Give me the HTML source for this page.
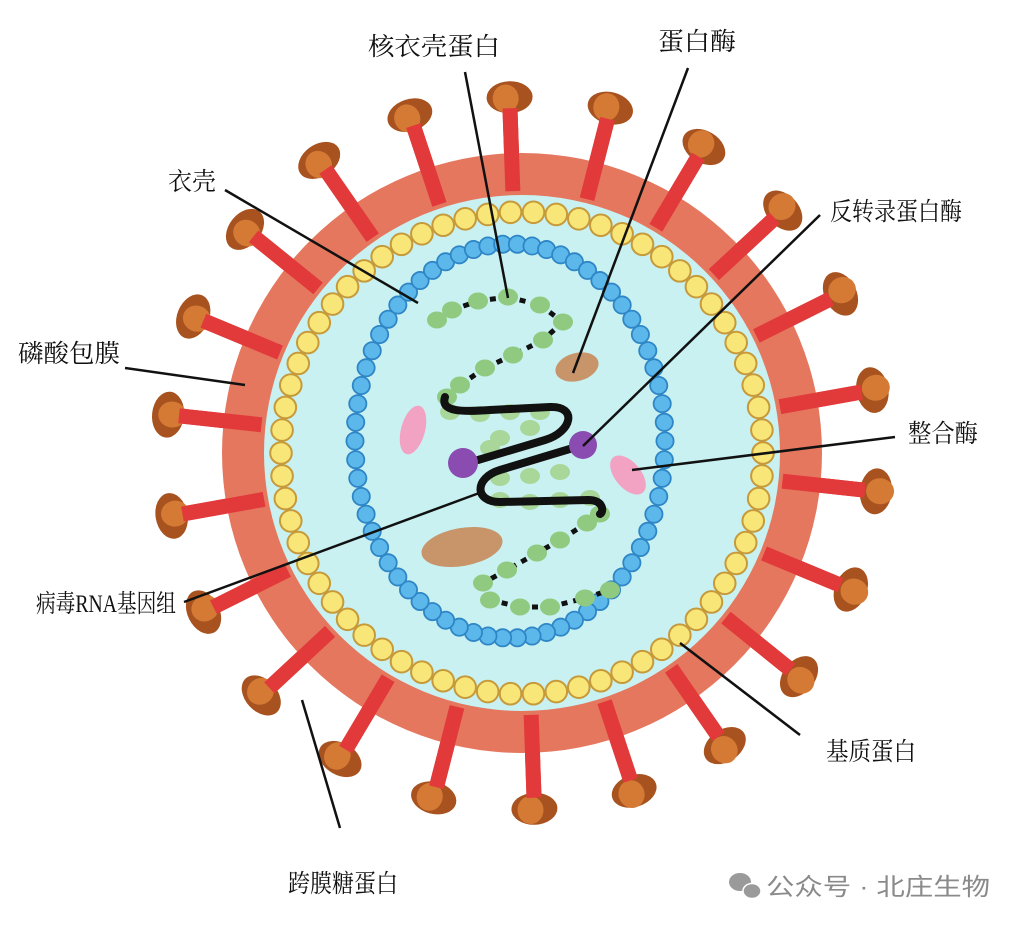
<!DOCTYPE html>
<html><head><meta charset="utf-8"><style>
html,body{margin:0;padding:0;background:#fff;width:1024px;height:928px;overflow:hidden}
svg{display:block}
text{font-family:"Liberation Serif","Noto Serif CJK SC",serif;font-size:25px;fill:#111}
</style></head><body>
<svg id="s" width="1024" height="928" viewBox="0 0 1024 928" xmlns="http://www.w3.org/2000/svg">
<g id="spikes"></g>
<circle cx="522" cy="453" r="300" fill="#e5775f"/>
<circle cx="522" cy="453" r="258" fill="#c9f1f1"/>
<g id="stems"></g>
<g id="yellow"></g>
<g id="blue"></g>
<g id="genome"></g>
<ellipse cx="577" cy="367" rx="22" ry="14" transform="rotate(-15 577 367)" fill="#c8956a"/>
<ellipse cx="462" cy="547" rx="41" ry="19" transform="rotate(-10 462 547)" fill="#c8956a"/>
<ellipse cx="413" cy="430" rx="12" ry="25" transform="rotate(15 413 430)" fill="#f2a3c3"/>
<ellipse cx="628" cy="475" rx="13" ry="23" transform="rotate(-40 628 475)" fill="#f2a3c3"/>
<path d="M445,397 C440,412 462,412 490,410 L550,407 C578,406 572,432 545,440 L478,460" fill="none" stroke="#111" stroke-width="8" stroke-linecap="round"/>
<path d="M583,445 L500,470 C474,478 474,502 500,502 L588,500 C604,500 604,512 600,514" fill="none" stroke="#111" stroke-width="8" stroke-linecap="round"/>
<circle cx="463" cy="463" r="15" fill="#8a4cb0"/>
<circle cx="583" cy="445" r="14" fill="#8a4cb0"/>
<g stroke="#111" stroke-width="2.5" fill="none">
<line x1="465" y1="72" x2="508" y2="298"/>
<line x1="688" y1="68" x2="573" y2="373"/>
<line x1="225" y1="190" x2="418" y2="303"/>
<line x1="820" y1="215" x2="583" y2="446"/>
<line x1="125" y1="368" x2="245" y2="385"/>
<line x1="895" y1="437" x2="632" y2="470"/>
<line x1="184" y1="602" x2="482" y2="492"/>
<line x1="800" y1="735" x2="680" y2="643"/>
<line x1="340" y1="828" x2="302" y2="700"/>
</g>
<text x="368" y="55" textLength="132" lengthAdjust="spacingAndGlyphs">核衣壳蛋白</text>
<text x="658" y="50" textLength="78" lengthAdjust="spacingAndGlyphs">蛋白酶</text>
<text x="168" y="190" textLength="48" lengthAdjust="spacingAndGlyphs">衣壳</text>
<text x="830" y="220" textLength="132" lengthAdjust="spacingAndGlyphs">反转录蛋白酶</text>
<text x="18" y="362" textLength="102" lengthAdjust="spacingAndGlyphs">磷酸包膜</text>
<text x="908" y="442" textLength="70" lengthAdjust="spacingAndGlyphs">整合酶</text>
<text x="36" y="612" textLength="140" lengthAdjust="spacingAndGlyphs">病毒RNA基因组</text>
<text x="826" y="760" textLength="90" lengthAdjust="spacingAndGlyphs">基质蛋白</text>
<text x="288" y="892" textLength="110" lengthAdjust="spacingAndGlyphs">跨膜糖蛋白</text>
<g>
<ellipse cx="740" cy="882" rx="11" ry="9" fill="#9a9a9a"/>
<ellipse cx="752" cy="891" rx="9" ry="7.5" fill="#9a9a9a" stroke="#fff" stroke-width="1.5"/>
<text x="766" y="895" textLength="224" lengthAdjust="spacingAndGlyphs" style="font-family:'Liberation Sans','Noto Sans CJK SC',sans-serif;font-size:24px;fill:#8a8a8a">公众号 · 北庄生物</text>
</g>
</svg>
<script>
var NS="http://www.w3.org/2000/svg";
function el(p,t,a){var e=document.createElementNS(NS,t);for(var k in a)e.setAttribute(k,a[k]);document.getElementById(p).appendChild(e);return e;}
var cx=522,cy=453;
for(var i=0;i<22;i++){
 var a=(-92+i*360/22)*Math.PI/180,c=Math.cos(a),s=Math.sin(a);
 el("stems","line",{x1:cx+c*262,y1:cy+s*262,x2:cx+c*345,y2:cy+s*345,stroke:"#e23a3a","stroke-width":15});
 var x=cx+c*356,y=cy+s*356,d=a*180/Math.PI+90;
 el("spikes","line",{x1:cx+c*290,y1:cy+s*290,x2:cx+c*345,y2:cy+s*345,stroke:"#e23a3a","stroke-width":15});
 el("spikes","ellipse",{cx:x,cy:y,rx:23,ry:16,fill:"#a7521f",transform:"rotate("+d+" "+x+" "+y+")"});
 el("spikes","ellipse",{cx:x-c*1+(-s)*(-4),cy:y-s*1+c*(-4),rx:13,ry:14,fill:"#d47a35",transform:"rotate("+d+" "+x+" "+y+")"});
}
for(var i=0;i<66;i++){var a=i/66*2*Math.PI;
 el("yellow","circle",{cx:cx+Math.cos(a)*241,cy:cy+Math.sin(a)*241,r:10.8,fill:"#f9e679",stroke:"#c69a3a","stroke-width":2});}
for(var i=0;i<66;i++){var a=i/66*2*Math.PI;
 el("blue","circle",{cx:510+Math.cos(a)*155,cy:441+Math.sin(a)*197,r:8.6,fill:"#5cb8ea",stroke:"#2f86c6","stroke-width":1.8});}
function chain(pts){
 for(var i=0;i<pts.length-1;i++)el("genome","line",{x1:pts[i][0],y1:pts[i][1],x2:pts[i+1][0],y2:pts[i+1][1],stroke:"#111","stroke-width":5,"stroke-dasharray":"6 6"});
 pts.forEach(function(p){el("genome","ellipse",{cx:p[0],cy:p[1],rx:10,ry:8.5,fill:"#8fca80"});});
}
chain([[437,320],[452,310],[478,301],[508,297],[540,305],[563,322],[543,340],[513,355],[485,368],[460,385],[447,397]]);
chain([[600,514],[587,523],[560,540],[537,553],[507,570],[483,583],[490,600],[520,607],[550,607],[585,598],[610,590]]);
[[450,412],[480,414],[510,412],[540,412],[500,438],[530,428],[490,448],[500,478],[530,476],[560,472],[500,500],[530,502],[560,500],[590,498]].forEach(function(p){el("genome","ellipse",{cx:p[0],cy:p[1],rx:10,ry:8,fill:"#a9d79a"});});
</script>
</body></html>
